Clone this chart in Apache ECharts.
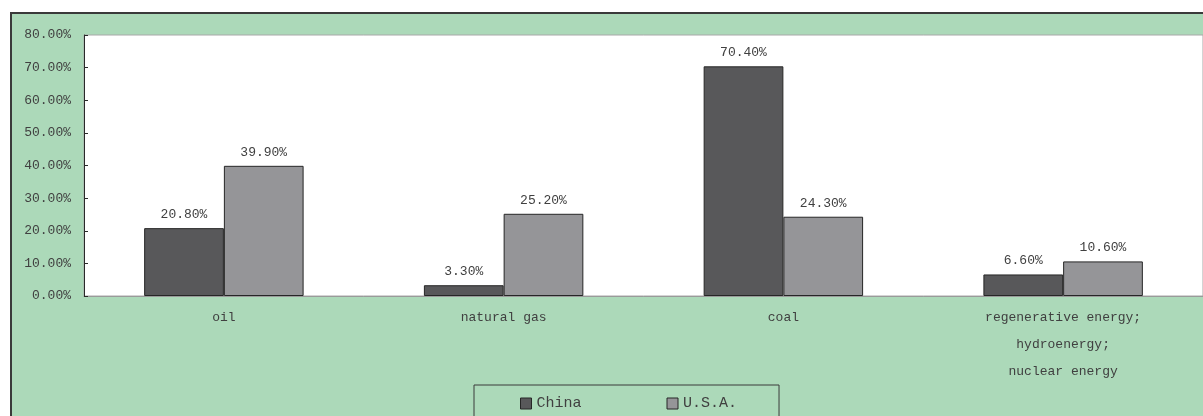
<!DOCTYPE html>
<html>
<head>
<meta charset="utf-8">
<script src="https://cdn.jsdelivr.net/npm/echarts@6/dist/echarts.min.js"></script>
<style>
  html, body { margin: 0; padding: 0; background: #ffffff; overflow: hidden; }
  #frame {
    position: absolute; left: 10px; top: 12px; width: 1300px; height: 500px;
    background: #acd9b9; border-left: 2px solid #3a3a3a; border-top: 2px solid #3a3a3a;
  }
  #chart { position: absolute; left: 0; top: 0; width: 1203px; height: 416px; }
</style>
</head>
<body>
<div id="frame"></div>
<div id="chart"></div>
<script>
// Energy consumption structure, share of total (%)
const categories = ['oil', 'natural gas', 'coal', 'regenerative energy;\nhydroenergy;\nnuclear energy'];
const chinaValues = [20.8, 3.3, 70.4, 6.6];
const usaValues = [39.9, 25.2, 24.3, 10.6];
const seriesNames = ['China', 'U.S.A.'];

const FONT = '"Liberation Mono", "DejaVu Sans Mono", monospace';
const pct = v => v.toFixed(2) + '%';

const chart = echarts.init(document.getElementById('chart'), null, { renderer: 'canvas' });

function barSeries(name, data, color) {
  return {
    name: name,
    type: 'bar',
    data: data,
    barGap: '0%',
    barCategoryGap: '43%',
    itemStyle: { color: color, borderColor: '#262626', borderWidth: 1 },
    label: {
      show: true,
      position: 'top',
      distance: 7,
      fontFamily: FONT,
      fontSize: 13,
      color: '#404040',
      formatter: p => pct(p.value)
    }
  };
}

chart.setOption({
  backgroundColor: 'transparent',
  animation: false,
  grid: {
    show: true,
    left: 84, top: 35, right: -4, bottom: 120,
    backgroundColor: '#ffffff',
    borderColor: '#a8a8a8',
    borderWidth: 1
  },
  legend: {
    left: 474,
    top: 385,
    padding: [11, 42, 20, 46],
    itemGap: 85,
    itemWidth: 11,
    itemHeight: 11,
    icon: 'rect',
    itemStyle: { borderColor: '#262626', borderWidth: 1 },
    borderColor: '#3a3a3a',
    borderWidth: 1,
    textStyle: { fontFamily: FONT, fontSize: 15, color: '#404040' },
    data: seriesNames
  },
  xAxis: {
    type: 'category',
    data: categories,
    axisLine: { lineStyle: { color: '#9a9a9a', width: 1 } },
    axisTick: { show: false },
    axisLabel: {
      interval: 0,
      margin: 8,
      fontFamily: FONT,
      fontSize: 13,
      lineHeight: 27,
      color: '#404040'
    }
  },
  yAxis: {
    type: 'value',
    min: 0,
    max: 80,
    interval: 10,
    splitLine: { show: false },
    axisLine: { show: true, lineStyle: { color: '#2a2a2a', width: 1 } },
    axisTick: { show: true, inside: true, length: 4, lineStyle: { color: '#2a2a2a' } },
    axisLabel: {
      margin: 13,
      fontFamily: FONT,
      fontSize: 13,
      color: '#404040',
      formatter: v => pct(v)
    }
  },
  series: [
    barSeries(seriesNames[0], chinaValues, '#58585a'),
    barSeries(seriesNames[1], usaValues, '#959598')
  ]
});
</script>
</body>
</html>
